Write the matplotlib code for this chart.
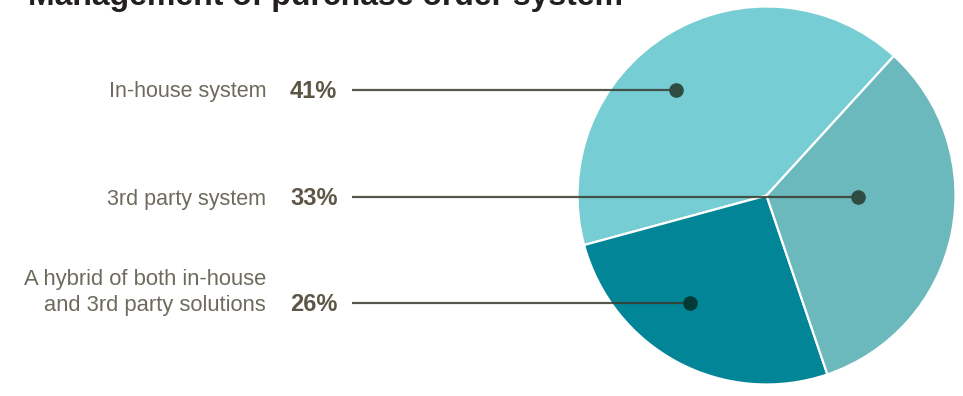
import matplotlib
matplotlib.use("Agg")
import matplotlib.pyplot as plt

title = "Management of purchase order system"
categories = ["In-house system", "A hybrid of both in-house\nand 3rd party solutions", "3rd party system"]
values = [41, 26, 33]
pct_labels = ["41%", "26%", "33%"]
colors = ["#76CDD3", "#028697", "#6BB8BD"]

W, H = 963, 396
fig = plt.figure(figsize=(W / 100, H / 100), dpi=100)
ax = fig.add_axes([0, 0, 1, 1])

cx, cy, r = 766.5, H - 195.5, 189
ax.pie(values, colors=colors, startangle=47.6, counterclock=True,
       center=(cx, cy), radius=r, frame=True,
       wedgeprops=dict(edgecolor="white", linewidth=1.6))
ax.set_xlim(0, W)
ax.set_ylim(0, H)
ax.set_aspect("equal")
ax.axis("off")

# label rows (pixel y from top) and dot x positions
row_y = [90, 303, 197]
dot_x = [676, 690, 858]
dot_colors = ["#2F4C42", "#003B36", "#2F4C42"]
font = "Liberation Sans"
label_color = "#6E6A5E"
for cat, pct, yy, dx, dc in zip(categories, pct_labels, row_y, dot_x, dot_colors):
    y = H - yy
    lines = cat.split("\n")
    for i, line in enumerate(reversed(lines)):
        ax.text(266, y - 2 + 25 * i, line, ha="right", va="center",
                fontsize=15.8 if len(lines) > 1 else 15.5,
                color=label_color, family=font)
    ax.text(290, y - 1.5, pct, ha="left", va="center", fontsize=17,
            color="#5C5646", family=font, fontweight="bold")
    ax.plot([352, dx], [y, y], color="#3A3A2E", alpha=0.85, lw=1.6,
            solid_capstyle="butt", zorder=5)
    ax.plot([dx], [y], marker="o", ms=9.5, color=dc, mec=dc, zorder=6)

ax.text(28, H - 4.5, title, ha="left", va="baseline", fontsize=23,
        fontweight="bold", color="#231F20", family=font)

fig.savefig("out.png", dpi=100)
